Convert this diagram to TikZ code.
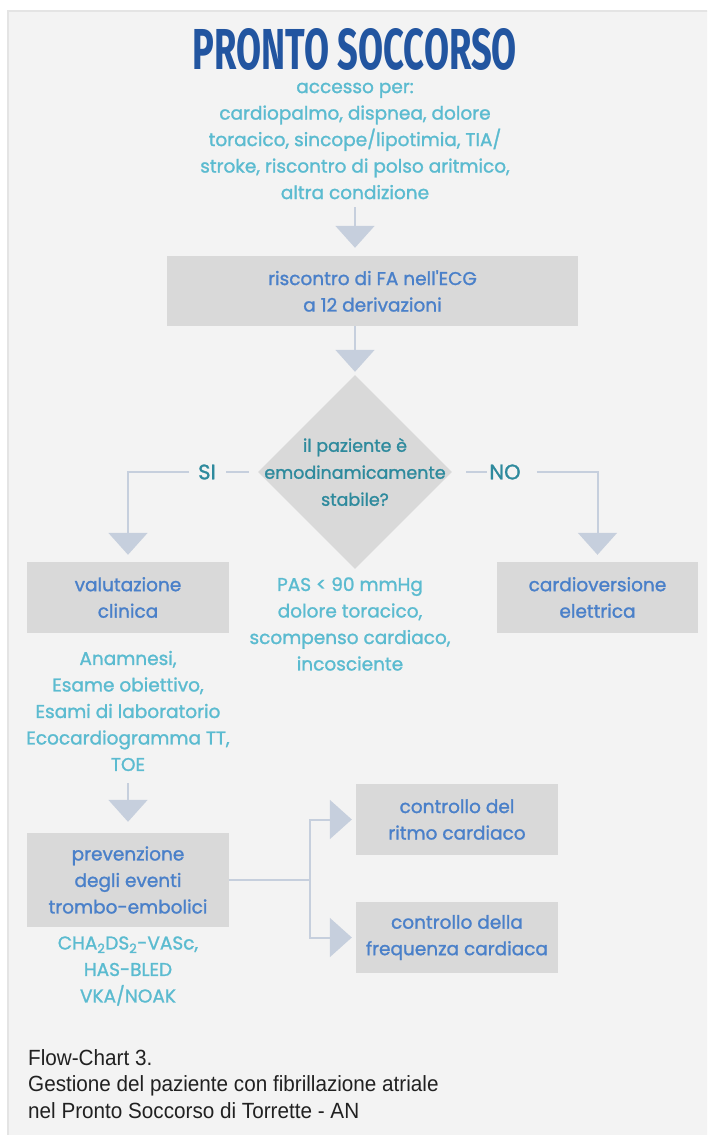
\documentclass[tikz,border=0pt]{standalone}
\usepackage{fontspec}
\usetikzlibrary{arrows.meta,shapes.geometric,calc}
\setmainfont{Poppins}[FakeBold=1.2]
\newfontfamily\medfont[FakeBold=1.3]{Poppins}
\newfontfamily\titlefont{Fira Sans}
\newfontfamily\capfont[FakeStretch=0.94]{Liberation Sans}
\definecolor{panel}{HTML}{F3F3F3}
\definecolor{panelrule}{HTML}{E4E4E4}
\definecolor{boxgray}{HTML}{D9D9D9}
\definecolor{boxblue}{HTML}{4A80C9}
\definecolor{lightteal}{HTML}{5BBBD0}
\definecolor{darkteal}{HTML}{2E8A9D}
\definecolor{titleblue}{HTML}{2255A0}
\definecolor{conncol}{HTML}{C6CFDD}
\tikzset{
  stepbox/.style={fill=boxgray, inner sep=0pt, text=boxblue, align=center,
    font=\medfont\fontsize{18.5}{26.5}\selectfont},
  notes/.style={text=lightteal, align=center, inner sep=0pt,
    font=\medfont\fontsize{18.5}{26.5}\selectfont},
  conn/.style={draw=conncol, line width=2pt},
  flow/.style={conn, -{Triangle[width=39pt,length=22pt]}, conncol},
  answer/.style={text=darkteal, inner sep=0pt, font=\medfont\fontsize{21}{24}\selectfont},
}
\begin{document}
\begin{tikzpicture}[x=1pt,y=-1pt]
% page and panel
\useasboundingbox[fill=white] (0,0) rectangle (707,1135);
\begin{scope}
\clip (0,0) rectangle (707,1135);
\draw[fill=panel, draw=panelrule, line width=2pt] (8,11) rectangle (720,1150);
\end{scope}

% title and access conditions
\node[text=titleblue, inner sep=0pt] (title) at (355,49.5)
  {\resizebox{324pt}{41pt}{\titlefont\bfseries PRONTO SOCCORSO}};
\node[notes] (access) at (355,141)
  {accesso per:\\cardiopalmo, dispnea, dolore\\toracico, sincope/lipotimia, TIA/\\stroke, riscontro di polso aritmico,\\altra condizione};

% ECG box
\node[stepbox, minimum width=411pt, minimum height=70pt] (ecg) at (372.5,291)
  {riscontro di FA nell'ECG\\a 12 derivazioni};

% decision
\node[diamond, fill=boxgray, minimum width=194pt, minimum height=194pt, inner sep=0pt] (dia) at (355,472) {};
\node[text=darkteal, align=center, inner sep=0pt, font=\medfont\fontsize{17.5}{27}\selectfont] (diatext) at (dia.center)
  {il paziente è\\emodinamicamente\\stabile?};

\node[answer] (si) at (207,472) {SI};
\node[answer] (no) at (505,472) {NO};

% outcome boxes
\node[stepbox, minimum width=202pt, minimum height=71pt] (val) at (128,597.5)
  {valutazione\\clinica};
\node[stepbox, minimum width=201pt, minimum height=71pt] (cv) at (597.5,597.5)
  {cardioversione\\elettrica};
\node[notes] (unstable) at (350,624)
  {PAS < 90 mmHg\\dolore toracico,\\scompenso cardiaco,\\incosciente};
\node[notes] (exams) at (128,711)
  {Anamnesi,\\Esame obiettivo,\\Esami di laboratorio\\Ecocardiogramma TT,\\TOE};

\node[stepbox, minimum width=202pt, minimum height=94pt] (prev) at (128,880)
  {prevenzione\\degli eventi\\trombo-embolici};
\node[notes] (scores) at (128,971)
  {CHA\textsubscript{2}DS\textsubscript{2}-VASc,\\HAS-BLED\\VKA/NOAK};

\node[stepbox, minimum width=202pt, minimum height=71pt] (ritmo) at (457,819.5)
  {controllo del\\ritmo cardiaco};
\node[stepbox, minimum width=202pt, minimum height=71pt] (freq) at (457,937.5)
  {controllo della\\frequenza cardiaca};

% connectors
\draw[flow, shorten >=8pt] ([yshift=-8pt]access.south) -- (access.south |- ecg.north);
\draw[flow, shorten >=3pt] (ecg.south -| dia.north) -- (dia.north);
\draw[conn] ([xshift=-9pt]dia.west) -- ([xshift=10pt]si.east);
\draw[flow, shorten >=7pt] ([xshift=-9pt]si.west) -| (val.north);
\draw[conn] ([xshift=14pt]dia.east) -- ([xshift=-2pt]no.west);
\draw[flow, shorten >=7pt] ([xshift=16pt]no.east) -| (cv.north);
\draw[flow, shorten >=11pt] ([yshift=-12pt]exams.south) -- (prev.north);
\coordinate (split) at (310,880);
\draw[conn] (prev.east) -- (split);
\draw[flow, shorten >=4pt] (split) |- (ritmo.west);
\draw[flow, shorten >=4pt] (split) |- (freq.west);

% caption
\node[anchor=north west, align=left, inner sep=0pt, text=black!87,
  font=\capfont\fontsize{22}{26.5}\selectfont] (caption) at (28,1049)
  {Flow-Chart 3.\\Gestione del paziente con fibrillazione atriale\\nel Pronto Soccorso di Torrette - AN};
\end{tikzpicture}
\end{document}
